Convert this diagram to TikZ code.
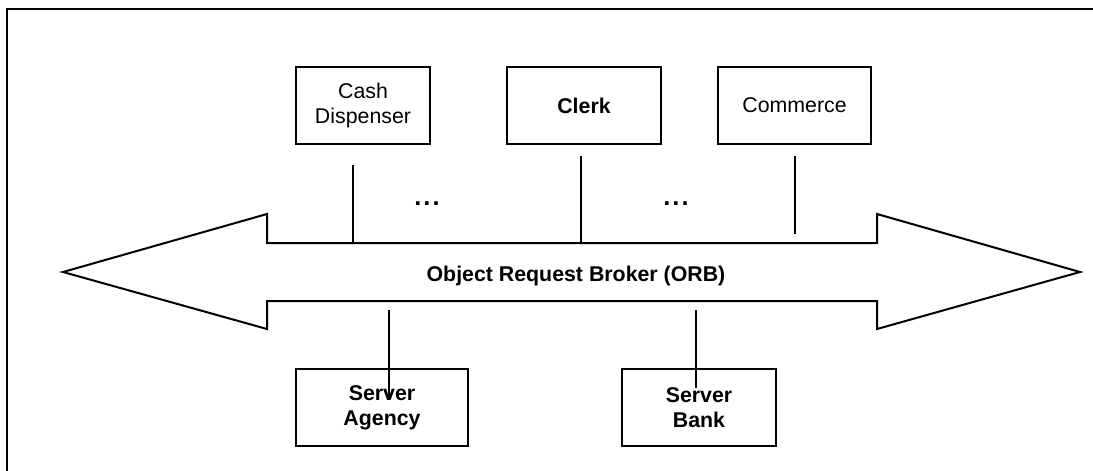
\documentclass[tikz,border=0pt]{standalone}
\usepackage{fontspec}
\setmainfont{Liberation Sans}
\newdimen\px \px=0.75pt
\begin{document}
\begin{tikzpicture}[x=0.75pt,y=-0.75pt,
  line width=1.5pt,
  txt/.style={font=\fontsize{16}{18.5}\selectfont},
  btxt/.style={font=\fontsize{16}{18.5}\selectfont\bfseries},
  box/.style={draw,line width=1.5pt,minimum height=77*\px,inner sep=0pt,align=center,txt},
  dotsty/.style={font=\fontsize{19}{20}\selectfont\bfseries,inner sep=0pt},
  conn/.style={line width=1.3pt}]
\useasboundingbox (0,0) rectangle (1093,471);
% frame (extends beyond the picture on the right and bottom)
\draw[line width=1.5pt] (1093,9) -- (7,9) -- (7,471);
% ORB double arrow
\draw[line width=1.5pt,line join=miter]
  (63,272) -- (267,214) -- (267,243) -- (877,243) -- (877,214) -- (1080,272)
  -- (877,329) -- (877,301) -- (267,301) -- (267,329) -- cycle;
\node[btxt] (orb) at (576,276) {Object Request Broker (ORB)};
% client boxes
\node[box,minimum width=134*\px] (cash) at (363,105.5) {Cash\\Dispenser};
\node[box,minimum width=154*\px,btxt] (clerk) at (584,105.5) {Clerk};
\node[box,minimum width=153*\px] (comm) at (794.5,105.5) {Commerce};
% server boxes
\node[box,minimum width=172*\px,btxt] (agency) at (382,407.5) {Server\\Agency};
\node[box,minimum width=154*\px,btxt] (bank) at (699,407.5) {Server\\Bank};
% dots
\node[dotsty] (dots1) at (427,204) {.\hspace{1.5pt}.\hspace{1.5pt}.};
\node[dotsty] (dots2) at (676,204) {.\hspace{1.5pt}.\hspace{1.5pt}.};
% connector end points
\coordinate (c1a) at (353,165); \coordinate (c1b) at (353,243);
\coordinate (c2a) at (581,156); \coordinate (c2b) at (581,243);
\coordinate (c3a) at (795,156); \coordinate (c3b) at (795,234);
\coordinate (s1a) at (389,310); \coordinate (s1b) at (389,397);
\coordinate (s2a) at (696,310); \coordinate (s2b) at (696,388);
\draw[conn] (c1a) -- (c1b);
\draw[conn] (c2a) -- (c2b);
\draw[conn] (c3a) -- (c3b);
\draw[conn] (s1a) -- (s1b);
\draw[conn] (s2a) -- (s2b);
\end{tikzpicture}
\end{document}
